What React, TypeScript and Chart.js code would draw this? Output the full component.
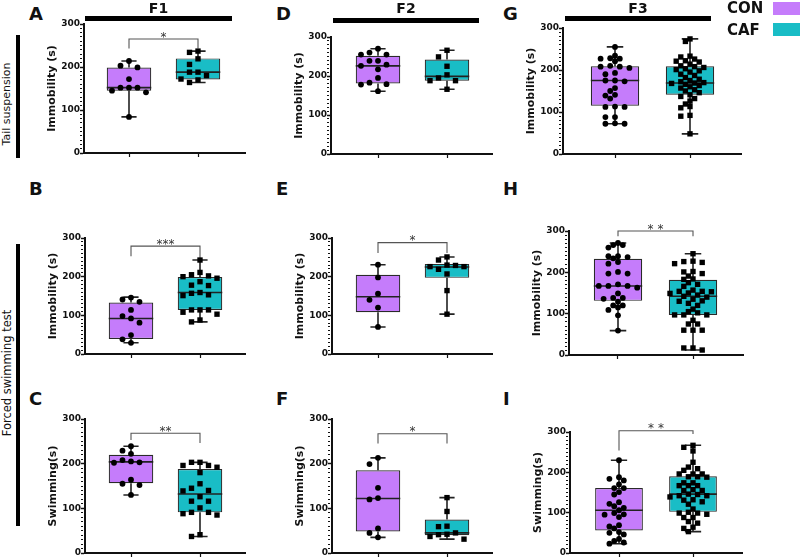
import React, { useEffect, useRef } from 'react';
import { Chart, registerables } from 'chart.js';

Chart.register(...registerables);
Chart.defaults.font.family = '"DejaVu Sans", Verdana, sans-serif';

// ---------- labels ----------
const GROUPS = ['CON', 'CAF'];
const HEADERS = ['F1', 'F2', 'F3'];
const Y_MAJOR_TICKS = [0, 100, 200, 300];
const Y_LABEL_IMM = 'Immobility (s)';
const Y_LABEL_SWIM = 'Swimming(s)';
const SIDE_LABELS = ['Tail suspension', 'Forced swimming test'];

// ---------- individual values (s) ----------
const A_CON = [214, 203, 199, 172, 152, 152, 152, 145, 141, 84];
const A_CAF = [237, 234, 219, 206, 188, 188, 180, 172, 170, 164];
const B_CON = [146, 141, 135, 114, 98, 92, 81, 49, 38, 29];
const B_CAF = [243, 211, 205, 202, 200, 196, 187, 178, 177, 159, 157, 153, 151, 114, 114, 114, 108, 103, 88, 83];
const C_CON = [239, 229, 222, 208, 205, 203, 202, 164, 155, 152, 130];
const C_CAF = [203, 203, 196, 196, 192, 180, 155, 145, 140, 139, 126, 116, 116, 101, 91, 91, 88, 85, 41, 37];
const D_CON = [270, 260, 255, 255, 239, 239, 229, 226, 217, 195, 183, 179, 178, 161];
const D_CAF = [266, 249, 225, 203, 195, 188, 188, 166];
const E_CON = [231, 198, 156, 140, 120, 70];
const E_CAF = [251, 243, 230, 229, 226, 226, 219, 207, 164, 103];
const F_CON = [213, 199, 146, 123, 120, 55, 45, 35];
const F_CAF = [124, 93, 60, 59, 45, 42, 41, 37, 31];
const G_CON = [255, 234, 228, 227, 227, 221, 210, 208, 208, 205, 193, 190, 175, 175, 173, 157, 150, 141, 139, 132, 113, 112, 112, 88, 88, 73, 72, 72];
const G_CAF = [274, 268, 233, 231, 226, 222, 221, 219, 214, 210, 208, 206, 203, 201, 198, 195, 190, 187, 182, 178, 175, 172, 170, 169, 168, 166, 163, 160, 157, 153, 150, 146, 141, 137, 132, 126, 119, 113, 110, 92, 90, 48];
const H_CON = [271, 266, 266, 260, 239, 239, 237, 234, 225, 221, 201, 197, 197, 171, 167, 167, 167, 163, 149, 138, 138, 136, 129, 120, 120, 115, 109, 96, 59];
const H_CAF = [245, 227, 226, 224, 221, 202, 201, 197, 191, 184, 183, 175, 171, 166, 157, 154, 154, 153, 150, 149, 145, 142, 140, 135, 131, 130, 125, 120, 111, 105, 102, 97, 97, 97, 84, 75, 75, 60, 60, 60, 17, 17, 12];
const I_CON = [230, 188, 184, 180, 170, 161, 161, 151, 145, 126, 122, 116, 112, 106, 99, 96, 95, 89, 69, 66, 61, 52, 50, 46, 35, 30, 26, 23];
const I_CAF = [267, 262, 253, 225, 213, 209, 205, 196, 196, 196, 189, 189, 188, 174, 174, 167, 167, 167, 157, 155, 155, 146, 145, 142, 142, 139, 132, 131, 127, 121, 109, 101, 99, 99, 96, 88, 88, 78, 74, 64, 61, 53];

// ---------- box summaries: [min, Q1, median, Q3, max] ----------
const A_CON_BOX = [84, 145, 152, 199, 214];
const A_CAF_BOX = [164, 171, 188, 220, 237];
const B_CON_BOX = [29, 39, 92, 133, 147];
const B_CAF_BOX = [83, 114, 159, 199, 243];
const C_CON_BOX = [130, 156, 204, 220, 239];
const C_CAF_BOX = [37, 91, 132, 188, 203];
const D_CON_BOX = [161, 181, 226, 252, 270];
const D_CAF_BOX = [166, 188, 199, 242, 266];
const E_CON_BOX = [70, 108, 148, 205, 231];
const E_CAF_BOX = [103, 197, 225, 233, 251];
const F_CON_BOX = [35, 48, 122, 185, 213];
const F_CAF_BOX = [31, 40, 45, 75, 124];
const G_CON_BOX = [72, 115, 175, 209, 255];
const G_CAF_BOX = [48, 141, 169, 209, 274];
const H_CON_BOX = [59, 131, 167, 233, 271];
const H_CAF_BOX = [12, 97, 142, 182, 245];
const I_CON_BOX = [23, 56, 106, 161, 230];
const I_CAF_BOX = [53, 102, 146, 190, 267];

// ---------- significance brackets: [left leg end, bar level, right leg end] ----------
const A_SIG = [243, 265, 243];
const B_SIG = [253, 279, 248];
const C_SIG = [253, 268, 246];
const E_SIG = [261, 288, 261];
const F_SIG = [245, 267, 245];
const H_SIG = [287, 300, 287];
const I_SIG = [254, 303, 295];
const A_STARS = '*';
const B_STARS = '***';
const C_STARS = '**';
const E_STARS = '*';
const F_STARS = '*';
const H_STARS = '* *';
const I_STARS = '* *';

// ---------- style ----------
const CON_COLOR = '#C57CFB';
const CAF_COLOR = '#19BDC6';
const INK = '#111111';
const FONT = '"DejaVu Sans", Verdana, sans-serif';

type PanelDef = {
  key: string;
  title: string;
  con: number[];
  caf: number[];
  conBox: number[];
  cafBox: number[];
  sig?: number[];
  stars?: string;
};

const PANELS: PanelDef[] = [
  { key: 'A', title: Y_LABEL_IMM, con: A_CON, caf: A_CAF, conBox: A_CON_BOX, cafBox: A_CAF_BOX, sig: A_SIG, stars: A_STARS },
  { key: 'B', title: Y_LABEL_IMM, con: B_CON, caf: B_CAF, conBox: B_CON_BOX, cafBox: B_CAF_BOX, sig: B_SIG, stars: B_STARS },
  { key: 'C', title: Y_LABEL_SWIM, con: C_CON, caf: C_CAF, conBox: C_CON_BOX, cafBox: C_CAF_BOX, sig: C_SIG, stars: C_STARS },
  { key: 'D', title: Y_LABEL_IMM, con: D_CON, caf: D_CAF, conBox: D_CON_BOX, cafBox: D_CAF_BOX },
  { key: 'E', title: Y_LABEL_IMM, con: E_CON, caf: E_CAF, conBox: E_CON_BOX, cafBox: E_CAF_BOX, sig: E_SIG, stars: E_STARS },
  { key: 'F', title: Y_LABEL_SWIM, con: F_CON, caf: F_CAF, conBox: F_CON_BOX, cafBox: F_CAF_BOX, sig: F_SIG, stars: F_STARS },
  { key: 'G', title: Y_LABEL_IMM, con: G_CON, caf: G_CAF, conBox: G_CON_BOX, cafBox: G_CAF_BOX },
  { key: 'H', title: Y_LABEL_IMM, con: H_CON, caf: H_CAF, conBox: H_CON_BOX, cafBox: H_CAF_BOX, sig: H_SIG, stars: H_STARS },
  { key: 'I', title: Y_LABEL_SWIM, con: I_CON, caf: I_CAF, conBox: I_CON_BOX, cafBox: I_CAF_BOX, sig: I_SIG, stars: I_STARS },
];

// plot-area geometry (pixels): left, right, top, bottom, CON centre, CAF centre
const LAYOUT: Record<string, { l: number; r: number; t: number; b: number; c0: number; c1: number }> = {
  A: { l: 84, r: 245, t: 24, b: 153, c0: 129, c1: 198 },
  B: { l: 85, r: 245, t: 238, b: 354, c0: 131, c1: 200 },
  C: { l: 85, r: 245, t: 419, b: 553, c0: 131, c1: 200 },
  D: { l: 331, r: 492, t: 37, b: 154, c0: 378, c1: 447 },
  E: { l: 332, r: 492, t: 238, b: 354, c0: 378, c1: 447 },
  F: { l: 332, r: 492, t: 419, b: 553, c0: 378, c1: 447 },
  G: { l: 563, r: 741, t: 28, b: 154, c0: 615, c1: 690 },
  H: { l: 569, r: 743, t: 231, b: 355, c0: 618, c1: 693 },
  I: { l: 570, r: 742, t: 432, b: 553, c0: 619, c1: 693 },
};

const LETTER_POS: Record<string, [number, number]> = {
  A: [29, 5], B: [29, 180], C: [29, 390],
  D: [276, 5], E: [276, 180], F: [276, 390],
  G: [503, 5], H: [503, 180], I: [503, 390],
};

const AXIS_W = 40;
const PAD_T = 26;
const PAD_R = 4;
const AXIS_H = 10;
const BOX_FRACTION = 0.645;
const CAP_HALF = 0.11;

// layout of dots so they do not overlap (returns pixel offsets from the group centre)
function swarmOffsets(values: number[], pxPerY: number, d: number, step: number): number[] {
  const idx = values.map((_, i) => i).sort((a, b) => values[b] - values[a]);
  const placed: { x: number; y: number }[] = [];
  const out = new Array(values.length).fill(0);
  for (const i of idx) {
    const y = values[i] * pxPerY;
    let off = 0;
    for (let k = 0; k < 80; k++) {
      const cand = k === 0 ? 0 : (k % 2 === 1 ? -1 : 1) * Math.ceil(k / 2) * step;
      if (placed.every((p) => (p.x - cand) ** 2 + (p.y - y) ** 2 >= d * d)) {
        off = cand;
        break;
      }
    }
    placed.push({ x: off, y });
    out[i] = off;
  }
  return out;
}

const starPlugin = {
  id: 'stars',
  afterDatasetsDraw(chart: any, _args: any, opts: any) {
    if (!opts || !opts.text) return;
    const xs = chart.scales.x;
    const ys = chart.scales.y;
    const ctx = chart.ctx;
    ctx.save();
    ctx.font = `12px ${FONT}`;
    ctx.fillStyle = '#333';
    ctx.textAlign = 'center';
    ctx.textBaseline = 'alphabetic';
    ctx.fillText(opts.text, xs.getPixelForValue(0.5), ys.getPixelForValue(opts.level) + 1.5);
    ctx.restore();
  },
};

function whiskerData(c: number, box: number[]) {
  return [
    { x: c, y: box[0] }, { x: c, y: box[1] }, { x: c, y: null },
    { x: c, y: box[3] }, { x: c, y: box[4] }, { x: c, y: null },
    { x: c - CAP_HALF, y: box[0] }, { x: c + CAP_HALF, y: box[0] }, { x: c, y: null },
    { x: c - CAP_HALF, y: box[4] }, { x: c + CAP_HALF, y: box[4] },
  ];
}

function Panel({ p }: { p: PanelDef }) {
  const ref = useRef<HTMLCanvasElement | null>(null);
  const lay = LAYOUT[p.key];
  const width = lay.r - lay.l + AXIS_W + PAD_R;
  const height = lay.b - lay.t + PAD_T + AXIS_H;

  useEffect(() => {
    if (!ref.current) return;
    const gap = lay.c1 - lay.c0;
    const xmin = -(lay.c0 - lay.l) / gap;
    const xmax = (lay.r - lay.c0) / gap;
    const pxY = (lay.b - lay.t) / 300;
    const half = BOX_FRACTION / 2;
    const dense = p.con.length + p.caf.length > 40;
    const conOff = dense ? swarmOffsets(p.con, pxY, 5.2, 4.8) : swarmOffsets(p.con, pxY, 7.5, 8.5);
    const cafOff = dense ? swarmOffsets(p.caf, pxY, 5.2, 4.6) : swarmOffsets(p.caf, pxY, 7.5, 8.5);

    const datasets: any[] = [
      {
        type: 'bar',
        data: [
          { x: 0, y: [p.conBox[1], p.conBox[3]] },
          { x: 1, y: [p.cafBox[1], p.cafBox[3]] },
        ],
        backgroundColor: [CON_COLOR, CAF_COLOR],
        borderColor: '#2a2a2a',
        borderWidth: 1.2,
        borderSkipped: false,
        categoryPercentage: 1,
        barPercentage: BOX_FRACTION,
        order: 6,
      },
      {
        type: 'line',
        data: [...whiskerData(0, p.conBox), { x: 0, y: null }, ...whiskerData(1, p.cafBox)],
        borderColor: '#222',
        borderWidth: 1.6,
        pointRadius: 0,
        fill: false,
        spanGaps: false,
        tension: 0,
        order: 5,
      },
      {
        type: 'line',
        data: [
          { x: -half, y: p.conBox[2] }, { x: half, y: p.conBox[2] }, { x: 0, y: null },
          { x: 1 - half, y: p.cafBox[2] }, { x: 1 + half, y: p.cafBox[2] },
        ],
        borderColor: '#222',
        borderWidth: 1.6,
        pointRadius: 0,
        fill: false,
        spanGaps: false,
        order: 4,
      },
      {
        type: 'scatter',
        data: p.con.map((v, i) => ({ x: conOff[i] / gap, y: v })),
        pointStyle: 'circle',
        pointRadius: 2.9,
        backgroundColor: '#000',
        borderColor: '#000',
        borderWidth: 0,
        order: 1,
      },
      {
        type: 'scatter',
        data: p.caf.map((v, i) => ({ x: 1 + cafOff[i] / gap, y: v })),
        pointStyle: 'rect',
        pointRadius: 3.8,
        backgroundColor: '#000',
        borderColor: '#000',
        borderWidth: 0,
        order: 1,
      },
    ];
    if (p.sig) {
      datasets.push({
        type: 'line',
        data: [
          { x: 0, y: p.sig[0] }, { x: 0, y: p.sig[1] },
          { x: 1, y: p.sig[1] }, { x: 1, y: p.sig[2] },
        ],
        borderColor: '#555',
        borderWidth: 1.1,
        pointRadius: 0,
        fill: false,
        clip: false,
        order: 2,
      });
    }

    const chart = new Chart(ref.current, {
      type: 'bar',
      data: { datasets },
      options: {
        animation: false,
        responsive: false,
        maintainAspectRatio: false,
        devicePixelRatio: 1,
        events: [],
        layout: { padding: { top: PAD_T, right: PAD_R, left: 0, bottom: 0 } },
        plugins: {
          legend: { display: false },
          tooltip: { enabled: false },
          stars: p.stars && p.sig ? { text: p.stars, level: p.sig[1] } : {},
        } as any,
        scales: {
          x: {
            type: 'linear',
            min: xmin,
            max: xmax,
            offset: false,
            afterBuildTicks: (s: any) => {
              s.ticks = GROUPS.map((_, i) => ({ value: i }));
            },
            afterFit: (s: any) => {
              s.height = AXIS_H;
            },
            border: { display: true, color: INK, width: 2 },
            grid: { display: true, offset: false, drawOnChartArea: false, drawTicks: true, tickLength: 4, tickColor: INK, tickWidth: 1.2 },
            ticks: { display: false },
          },
          y: {
            type: 'linear',
            min: Y_MAJOR_TICKS[0],
            max: Y_MAJOR_TICKS[Y_MAJOR_TICKS.length - 1],
            afterFit: (s: any) => {
              s.width = AXIS_W;
            },
            border: { display: true, color: INK, width: 2 },
            grid: {
              display: true,
              drawOnChartArea: false,
              drawTicks: true,
              tickLength: 4,
              tickColor: INK,
              tickWidth: (ctx: any) => (ctx.tick && Y_MAJOR_TICKS.includes(ctx.tick.value) ? 1.5 : 1),
              tickBorderDash: (ctx: any) => (ctx.tick && Y_MAJOR_TICKS.includes(ctx.tick.value) ? [] : [2, 20]),
            },
            ticks: {
              stepSize: 10,
              autoSkip: false,
              padding: 0,
              color: INK,
              font: { family: FONT, size: 9, weight: 'bold' },
              callback: (v: any) => (Y_MAJOR_TICKS.includes(Number(v)) ? String(v) : ''),
            },
            title: {
              display: true,
              text: p.title,
              color: INK,
              font: { family: FONT, size: 11, weight: 'bold' },
              padding: { top: 2, bottom: 0 },
            },
          },
        } as any,
      },
      plugins: [starPlugin],
    } as any);
    return () => chart.destroy();
  }, []);

  return (
    <canvas
      ref={ref}
      width={width}
      height={height}
      style={{ position: 'absolute', left: lay.l - AXIS_W, top: lay.t - PAD_T, width, height }}
    />
  );
}

const HEADER_BARS = [
  { left: 85, top: 16, width: 147 },
  { left: 333, top: 18, width: 146 },
  { left: 565, top: 16, width: 146 },
];

export default function App() {
  return (
    <div
      style={{
        position: 'fixed',
        left: 0,
        top: 0,
        width: 800,
        height: 559,
        overflow: 'hidden',
        background: '#fff',
        fontFamily: FONT,
        color: INK,
      }}
    >
      {PANELS.map((p) => (
        <Panel key={p.key} p={p} />
      ))}

      {PANELS.map((p) => (
        <div
          key={'L' + p.key}
          style={{
            position: 'absolute',
            left: LETTER_POS[p.key][0],
            top: LETTER_POS[p.key][1],
            fontSize: 18,
            lineHeight: '18px',
            fontWeight: 'bold',
          }}
        >
          {p.key}
        </div>
      ))}

      {HEADERS.map((h, i) => (
        <React.Fragment key={h}>
          <div
            style={{
              position: 'absolute',
              left: HEADER_BARS[i].left,
              width: HEADER_BARS[i].width,
              top: 1,
              textAlign: 'center',
              fontSize: 14,
              lineHeight: '14px',
              fontWeight: 'bold',
            }}
          >
            {h}
          </div>
          <div
            style={{
              position: 'absolute',
              left: HEADER_BARS[i].left,
              top: HEADER_BARS[i].top,
              width: HEADER_BARS[i].width,
              height: 4.5,
              background: '#000',
            }}
          />
        </React.Fragment>
      ))}

      {/* legend */}
      {GROUPS.map((g, i) => (
        <React.Fragment key={g}>
          <div
            style={{
              position: 'absolute',
              left: 727,
              top: 1 + i * 22,
              fontSize: 15,
              lineHeight: '15px',
              fontWeight: 'bold',
            }}
          >
            {g}
          </div>
          <div
            style={{
              position: 'absolute',
              left: 773,
              top: 2 + i * 21,
              width: 27,
              height: 13,
              background: i === 0 ? CON_COLOR : CAF_COLOR,
            }}
          />
        </React.Fragment>
      ))}

      {/* side labels */}
      <div style={{ position: 'absolute', left: 16, top: 35, width: 4, height: 123, background: '#000' }} />
      <div style={{ position: 'absolute', left: 16, top: 244, width: 4, height: 282, background: '#000' }} />
      <div
        style={{
          position: 'absolute',
          left: 7,
          top: 104,
          transform: 'translate(-50%, -50%) rotate(-90deg)',
          whiteSpace: 'nowrap',
          fontSize: 11,
          lineHeight: '12px',
        }}
      >
        {SIDE_LABELS[0]}
      </div>
      <div
        style={{
          position: 'absolute',
          left: 7,
          top: 373,
          transform: 'translate(-50%, -50%) rotate(-90deg)',
          whiteSpace: 'nowrap',
          fontSize: 11.5,
          lineHeight: '12px',
        }}
      >
        {SIDE_LABELS[1]}
      </div>
    </div>
  );
}
